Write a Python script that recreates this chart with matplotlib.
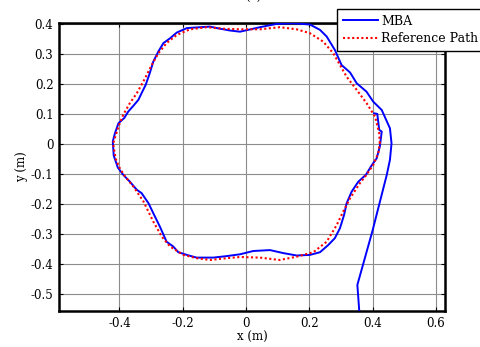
import matplotlib
matplotlib.use("Agg")
import matplotlib.pyplot as plt

# MBA trajectory (x, y in metres)
mba_x = [0.358, 0.352, 0.400, 0.445, 0.455, 0.460, 0.455, 0.429, 0.402, 0.381, 0.350,
         0.329, 0.302, 0.281, 0.255, 0.234, 0.202, 0.149, 0.097, 0.044, -0.019,
         -0.051, -0.082, -0.114, -0.145, -0.187, -0.219, -0.240, -0.261, -0.277,
         -0.293, -0.305, -0.317, -0.330, -0.340, -0.356, -0.372, -0.385, -0.403,
         -0.414, -0.421, -0.418, -0.405, -0.388, -0.367, -0.345, -0.330, -0.308,
         -0.293, -0.272, -0.251, -0.230, -0.214, -0.187, -0.156, -0.103, -0.061,
         -0.019, 0.023, 0.076, 0.118, 0.160, 0.202, 0.234, 0.260, 0.281, 0.297,
         0.310, 0.318, 0.334, 0.355, 0.379, 0.397, 0.413, 0.423, 0.429, 0.421,
         0.415, 0.405]
mba_y = [-0.558, -0.471, -0.290, -0.104, -0.054, 0.001, 0.051, 0.112, 0.140, 0.173, 0.201,
         0.237, 0.262, 0.312, 0.357, 0.379, 0.397, 0.401, 0.399, 0.388, 0.373,
         0.377, 0.383, 0.390, 0.388, 0.385, 0.370, 0.351, 0.335, 0.307,
         0.273, 0.232, 0.196, 0.168, 0.146, 0.126, 0.107, 0.085, 0.068,
         0.035, 0.007, -0.040, -0.080, -0.104, -0.127, -0.154, -0.165, -0.199,
         -0.232, -0.277, -0.327, -0.343, -0.362, -0.371, -0.380, -0.380, -0.375,
         -0.369, -0.358, -0.355, -0.365, -0.373, -0.371, -0.362, -0.338, -0.315, -0.282,
         -0.238, -0.199, -0.160, -0.127, -0.104, -0.073, -0.049, -0.010, 0.040, 0.046,
         0.099, 0.101]

# Reference path (closed loop)
ref_x = [0.423, 0.421, 0.408, 0.381, 0.350, 0.318, 0.297, 0.276, 0.244, 0.202, 0.160,
         0.107, 0.044, -0.019, -0.072, -0.124, -0.177, -0.219, -0.251, -0.277, -0.298,
         -0.322, -0.345, -0.367, -0.388, -0.403, -0.420, -0.412, -0.400, -0.382,
         -0.356, -0.324, -0.293, -0.266, -0.240, -0.198, -0.156, -0.114, -0.061,
         -0.019, 0.044, 0.107, 0.160, 0.213, 0.255, 0.287, 0.307, 0.329, 0.360,
         0.381, 0.402, 0.418, 0.423]
ref_y = [0.001, 0.035, 0.090, 0.135, 0.179, 0.223, 0.262, 0.301, 0.340, 0.368, 0.381,
         0.388, 0.381, 0.381, 0.383, 0.388, 0.381, 0.362, 0.335, 0.301, 0.262,
         0.212, 0.168, 0.135, 0.096, 0.057, 0.000, -0.050, -0.080, -0.110,
         -0.143, -0.193, -0.260, -0.310, -0.343, -0.371, -0.382, -0.388, -0.382,
         -0.378, -0.380, -0.388, -0.377, -0.362, -0.327, -0.271, -0.227, -0.182, -0.132,
         -0.104, -0.071, -0.032, 0.001]

x_ticks = [-0.4, -0.2, 0, 0.2, 0.4, 0.6]
x_tick_labels = ["-0.4", "-0.2", "0", "0.2", "0.4", "0.6"]
y_ticks = [-0.5, -0.4, -0.3, -0.2, -0.1, 0, 0.1, 0.2, 0.3, 0.4]
y_tick_labels = ["-0.5", "-0.4", "-0.3", "-0.2", "-0.1", "0", "0.1", "0.2", "0.3", "0.4"]

plt.rcParams['font.family'] = ['DejaVu Serif']
fs = 8.5

fig = plt.figure(figsize=(4.8, 3.47), dpi=100)
ax = fig.add_axes([59/480, 1 - 311/347, (445 - 59)/480, (311 - 23)/347])

ax.plot(mba_x, mba_y, color='#0000ff', lw=1.4, label='MBA', zorder=3)
ax.plot(ref_x, ref_y, color='#ff0000', lw=1.5, ls=(0, (1, 1.2)), label='Reference Path', zorder=4)

ax.set_xlim(-0.591, 0.629)
ax.set_ylim(-0.558, 0.402)
ax.set_xticks(x_ticks)
ax.set_xticklabels(x_tick_labels, fontsize=fs)
ax.set_yticks(y_ticks)
ax.set_yticklabels(y_tick_labels, fontsize=fs)
ax.tick_params(direction='in', top=True, right=True, length=3, width=0.8, pad=4)
ax.grid(True, color='#8c8c8c', lw=0.8)
ax.set_axisbelow(True)
for s in ax.spines.values():
    s.set_linewidth(1.8)

ax.set_xlabel('x (m)', fontsize=fs, labelpad=1)
ax.set_ylabel('y (m)', fontsize=fs, labelpad=2)

fig.text(253/480, 1 - 1/347, '(a)', fontsize=fs, ha='center', va='baseline')

leg = fig.legend(loc='upper left', bbox_to_anchor=(337/480, 1 - 9/347), fontsize=9,
                 frameon=True, fancybox=False, framealpha=1, edgecolor='black',
                 borderpad=0.45, labelspacing=0.35, handlelength=2.8, handletextpad=0.3,
                 borderaxespad=0)
leg.get_frame().set_linewidth(1.0)

fig.savefig('out.png', dpi=100)
